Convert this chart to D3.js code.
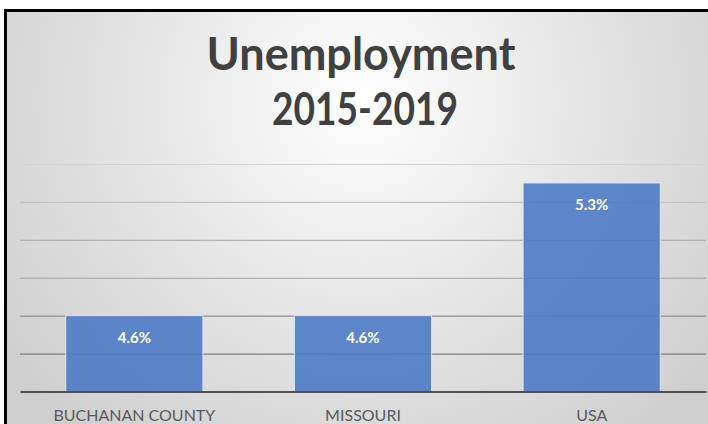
<!DOCTYPE html>
<html>
<head>
<meta charset="utf-8">
<script src="https://cdn.jsdelivr.net/npm/d3@7"></script>
<style>
  html, body { margin: 0; padding: 0; background: #ffffff; }
  svg { display: block; }
</style>
</head>
<body>
<svg id="chart" width="708" height="424"></svg>
<script>
// Unemployment rate, 2015-2019 five-year average
const categories = ["BUCHANAN COUNTY", "MISSOURI", "USA"];
const values = [4.6, 4.6, 5.3];
const valueLabels = ["4.6%", "4.6%", "5.3%"];
const gridTicks = [4.4, 4.6, 4.8, 5.0, 5.2, 5.4];
const titleLines = ["Unemployment", "2015-2019"];

const W = 708, H = 424;
const svg = d3.select("#chart");
const defs = svg.append("defs");

// soft radial backdrop, bright behind the title
const bg = defs.append("radialGradient")
  .attr("id", "bg").attr("gradientUnits", "userSpaceOnUse")
  .attr("cx", 362).attr("cy", 100).attr("r", 440);
bg.append("stop").attr("offset", "0").attr("stop-color", "#ffffff");
bg.append("stop").attr("offset", "0.55").attr("stop-color", "#e3e3e3");
bg.append("stop").attr("offset", "1").attr("stop-color", "#cfcfcf");

svg.append("rect")
  .attr("x", 5.5).attr("y", 10.5)
  .attr("width", W + 20).attr("height", H + 20)
  .attr("fill", "url(#bg)")
  .attr("stroke", "#000").attr("stroke-width", 3);

const plot = { left: 20, right: 706, top: 164, bottom: 391.5 };

const x = d3.scaleBand()
  .domain(categories)
  .range([plot.left, plot.right])
  .paddingInner(0.4)
  .paddingOuter(0.2);

const y = d3.scaleLinear()
  .domain([4.2, 5.4])
  .range([plot.bottom, plot.top]);

// gridline tone: darker near the baseline, fading upward
const gridTone = d3.scaleLinear()
  .domain([4.4, 5.4])
  .range(["#7e7e7e", "#d3d3d3"]);

// horizontal gridlines
const yAxis = d3.axisLeft(y).tickValues(gridTicks)
  .tickSize(-(plot.right - plot.left)).tickFormat("");
const gy = svg.append("g")
  .attr("transform", `translate(${plot.left},0)`)
  .call(yAxis);
gy.select(".domain").remove();
gy.selectAll(".tick line")
  .attr("stroke", d => gridTone(d)).attr("stroke-width", 1.2);

// bars
svg.append("g").selectAll("rect")
  .data(values)
  .join("rect")
  .attr("x", (d, i) => x(categories[i]))
  .attr("y", d => y(d))
  .attr("width", x.bandwidth())
  .attr("height", d => y(4.2) - y(d))
  .attr("fill", "#4a78c6")
  .attr("fill-opacity", 0.88)
  .attr("stroke", "#dfe6f2")
  .attr("stroke-width", 1);

// category axis
const xAxis = d3.axisBottom(x).tickSize(0).tickPadding(18);
const gx = svg.append("g")
  .attr("transform", `translate(0,${plot.bottom})`)
  .call(xAxis);
gx.select(".domain")
  .attr("stroke", "#505050").attr("stroke-width", 2.2);
gx.selectAll(".tick text")
  .attr("fill", "#595959")
  .attr("font-family", "Lato, 'Open Sans', sans-serif")
  .attr("font-size", 16)
  .attr("dy", "0.72em");

// value labels inside the bar tops
svg.append("g").selectAll("text")
  .data(values)
  .join("text")
  .attr("x", (d, i) => x(categories[i]) + x.bandwidth() / 2)
  .attr("y", d => y(d) + 27)
  .attr("text-anchor", "middle")
  .attr("fill", "#ffffff")
  .attr("font-family", "Lato, 'Open Sans', sans-serif")
  .attr("font-weight", 700)
  .attr("font-size", 15)
  .text((d, i) => valueLabels[i]);

// title; the year line uses condensed figures
const title = svg.append("g");
title.append("text")
  .attr("x", 361).attr("y", 70)
  .attr("text-anchor", "middle")
  .attr("fill", "#404040")
  .attr("font-family", "Lato, 'Open Sans', sans-serif")
  .attr("font-weight", 700)
  .attr("font-size", 45)
  .text(titleLines[0]);
title.append("text")
  .attr("x", 272).attr("y", 125)
  .attr("textLength", 186)
  .attr("lengthAdjust", "spacingAndGlyphs")
  .attr("fill", "#404040")
  .attr("font-family", "Lato, 'Open Sans', sans-serif")
  .attr("font-weight", 700)
  .attr("font-size", 45)
  .text(titleLines[1]);
</script>
</body>
</html>
